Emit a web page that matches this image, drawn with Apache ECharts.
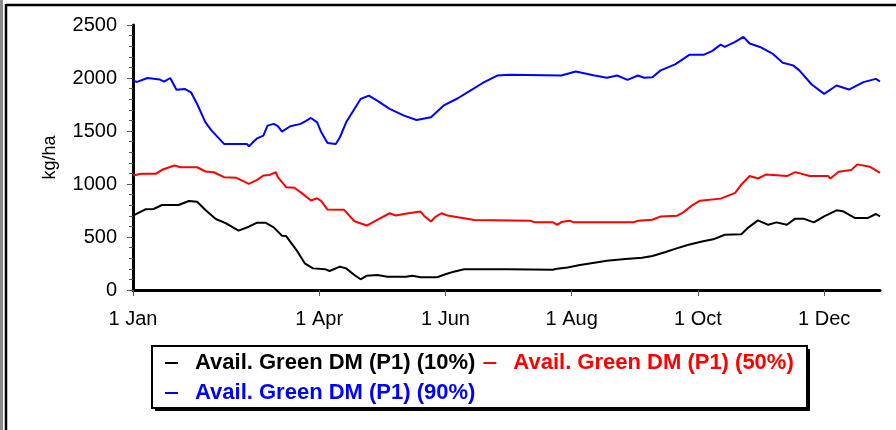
<!DOCTYPE html>
<html>
<head>
<meta charset="utf-8">
<script src="https://cdn.jsdelivr.net/npm/echarts@6/dist/echarts.min.js"></script>
<style>
html,body{margin:0;padding:0;background:#fff;}
#chart{width:896px;height:430px;}
</style>
</head>
<body>
<div id="chart"></div>
<script>
// x = day of year (0 = 1 Jan)
const tickDays = [0, 90, 151, 212, 273, 334];
const tickLabels = ['1 Jan', '1 Apr', '1 Jun', '1 Aug', '1 Oct', '1 Dec'];
const yTicks = [0, 500, 1000, 1500, 2000, 2500];
const seriesNames = ['Avail. Green DM (P1) (10%)', 'Avail. Green DM (P1) (50%)', 'Avail. Green DM (P1) (90%)'];

const p10 = [
  [0,701],[6,761],[10,764],[14,802],[22,802],[27,840],[31,833],[35,755],[40,670],[45,629],
  [51,560],[56,597],[60,635],[64,635],[68,591],[72,512],[74,509],[79,377],[83,252],[87,204],
  [93,195],[95,179],[100,220],[103,204],[107,142],[110,101],[113,135],[118,142],[123,126],[132,126],
  [135,135],[139,120],[147,120],[151,148],[155,173],[160,195],[181,195],[203,190],[204,198],[210,213],
  [216,236],[223,258],[229,276],[238,292],[246,305],[251,321],[257,356],[262,388],[268,425],[275,457],
  [281,482],[286,521],[294,526],[297,584],[302,657],[307,615],[311,638],[316,615],[320,673],[324,673],
  [329,638],[334,694],[340,752],[343,743],[349,679],[355,679],[359,717],[361,694]
];
const p50 = [
  [0,1080],[4,1096],[11,1096],[14,1134],[20,1174],[23,1158],[31,1158],[35,1118],[39,1111],[44,1064],
  [50,1058],[56,1001],[60,1039],[63,1080],[66,1086],[69,1111],[70,1064],[74,970],[78,964],[82,907],
  [86,844],[89,866],[91,838],[94,759],[102,756],[107,649],[113,608],[118,662],[124,724],[127,703],
  [133,724],[139,740],[141,693],[144,646],[146,687],[149,724],[152,703],[157,687],[165,660],[192,654],
  [194,638],[203,638],[205,615],[207,641],[211,654],[213,638],[242,638],[244,654],[251,663],[255,694],
  [263,701],[266,733],[270,796],[274,843],[284,862],[291,916],[294,995],[298,1075],[302,1052],[306,1090],
  [316,1075],[320,1112],[327,1075],[336,1075],[337,1052],[341,1116],[347,1131],[350,1185],[356,1163],[361,1106]
];
const p90 = [
  [0,1975],[2,1963],[7,2000],[13,1985],[15,1966],[18,2000],[21,1890],[25,1897],[28,1865],[31,1755],
  [35,1582],[38,1504],[44,1378],[55,1378],[56,1356],[60,1431],[63,1457],[65,1551],[68,1567],[70,1545],
  [72,1494],[76,1545],[81,1567],[83,1588],[86,1623],[89,1582],[91,1488],[94,1387],[98,1378],[100,1441],
  [103,1582],[107,1708],[110,1802],[114,1834],[118,1787],[124,1708],[131,1645],[137,1604],[144,1630],[150,1739],
  [157,1809],[163,1881],[169,1953],[176,2023],[182,2030],[207,2024],[214,2062],[223,2024],[229,2002],[234,2024],
  [239,1983],[244,2024],[247,2002],[251,2008],[255,2072],[262,2128],[269,2220],[276,2220],[280,2256],[284,2315],
  [286,2293],[291,2340],[295,2388],[298,2325],[303,2293],[309,2230],[314,2144],[319,2119],[322,2072],[328,1939],
  [334,1850],[340,1929],[346,1891],[353,1961],[359,1992],[361,1967]
];

const FONT = "'Liberation Sans', Arial, sans-serif";
const colors = ['#000000', '#ff0000', '#0000ff'];

const chart = echarts.init(document.getElementById('chart'), null, {renderer: 'canvas'});
chart.setOption({
  animation: false,
  backgroundColor: '#ffffff',
  grid: {left: 133, right: 16, top: 25, bottom: 140},
  xAxis: {
    type: 'value', min: 0, max: 361,
    axisLine: {show: true, lineStyle: {color: '#000', width: 3}},
    axisTick: {show: true, customValues: tickDays, length: 6, lineStyle: {color: '#555', width: 1}},
    axisLabel: {
      customValues: tickDays, margin: 19, color: '#000', fontFamily: FONT, fontSize: 20,
      formatter: v => tickLabels[tickDays.indexOf(v)] || ''
    },
    splitLine: {show: false}
  },
  yAxis: {
    type: 'value', min: 0, max: 2500, interval: 500,
    name: 'kg/ha', nameLocation: 'middle', nameRotate: 90, nameGap: 74,
    nameTextStyle: {color: '#000', fontFamily: FONT, fontSize: 18},
    axisLine: {show: true, lineStyle: {color: '#000', width: 3}},
    axisTick: {show: true, length: 6, lineStyle: {color: '#555', width: 1}},
    minorTick: {show: true, splitNumber: 5, length: 4, lineStyle: {color: '#555', width: 1}},
    axisLabel: {margin: 16, color: '#000', fontFamily: FONT, fontSize: 20,
      formatter: v => (yTicks.indexOf(v) >= 0 ? String(v) : '')},
    splitLine: {show: false}
  },
  legend: {
    left: 165, top: 352, width: 640, padding: 0,
    itemWidth: 13, itemHeight: 2, itemGap: 8,
    icon: 'rect',
    data: seriesNames.map((n, i) => ({name: n, textStyle: {color: colors[i]}})),
    textStyle: {fontFamily: FONT, fontSize: 22, fontWeight: 'bold', padding: [0, 0, 0, 12], lineHeight: 22},
    selectedMode: false
  },
  graphic: [
    {type: 'rect', shape: {x: 0, y: 0, width: 3, height: 430}, style: {fill: '#8c8c8c'}, silent: true},
    {type: 'line', shape: {x1: 6, y1: 5, x2: 896, y2: 5}, style: {stroke: '#000', lineWidth: 2.5}, silent: true},
    {type: 'line', shape: {x1: 6, y1: 4, x2: 6, y2: 430}, style: {stroke: '#000', lineWidth: 2.5}, silent: true},
    {type: 'rect', shape: {x: 155, y: 349, width: 655, height: 62}, style: {fill: '#000'}, z: -1, silent: true},
    {type: 'rect', shape: {x: 152, y: 346, width: 655, height: 62}, style: {fill: '#fff', stroke: '#000', lineWidth: 2}, z: -1, silent: true}
  ],
  series: [
    {name: seriesNames[0], type: 'line', data: p10, showSymbol: false, color: colors[0], lineStyle: {width: 2}},
    {name: seriesNames[1], type: 'line', data: p50, showSymbol: false, color: colors[1], lineStyle: {width: 2}},
    {name: seriesNames[2], type: 'line', data: p90, showSymbol: false, color: colors[2], lineStyle: {width: 2}}
  ]
});
</script>
</body>
</html>
